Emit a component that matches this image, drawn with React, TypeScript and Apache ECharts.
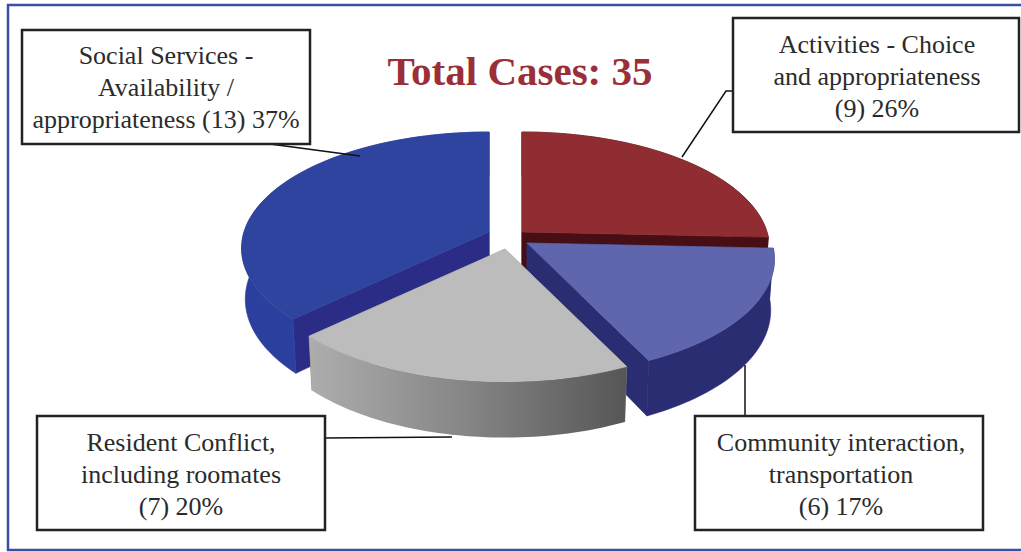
import React, { useEffect, useRef } from "react";
import * as echarts from "echarts";

// Data (clockwise from 12 o'clock)
const categories = ["Activities", "Community interaction", "Resident Conflict", "Social Services"];
const caseCounts = [9, 6, 7, 13];
const labelTexts = [
  "Activities - Choice\nand appropriateness\n(9) 26%",
  "Community interaction,\ntransportation\n(6) 17%",
  "Resident Conflict,\nincluding roomates\n(7) 20%",
  "Social Services -\nAvailability /\nappropriateness (13) 37%",
];
const titleText = "Total Cases: 35";

// Layout and style
const sliceCentres = [[522, 232], [527, 243], [505, 249], [489, 232]];
const sliceZ = [2, 3, 4, 1];
const topColors = ["#8f2d33", "#5f66ae", "#bcbcbc", "#2f449e"];
const faceColors = ["#470f14", "#2b2d72", "#8a8a8a", "#2a2c85"];
const greyRim = new echarts.graphic.LinearGradient(0, 0, 1, 0, [
  { offset: 0, color: "#adadad" },
  { offset: 0.5, color: "#858585" },
  { offset: 1, color: "#565656" },
]);
const rimColors: any[] = ["#470f14", "#2b2d72", greyRim, "#2b3f9f"];
const boxes = [
  { x: 733, y: 18, w: 286, h: 114, tx: 877, ty: 76 },
  { x: 695, y: 416, w: 288, h: 114, tx: 841, ty: 474 },
  { x: 37, y: 416, w: 288, h: 114, tx: 181, ty: 474 },
  { x: 22, y: 30, w: 288, h: 114, tx: 166, ty: 87 },
];
const connectors = [
  [[733, 91], [726, 91], [682, 157]],
  [[745, 365], [745, 416]],
  [[325, 438], [452, 437]],
  [[270, 144], [360, 156]],
];

const A = 245, K = 114, P = 0.14, DEPTH = 50, SHRINK = 0.985;
const total = caseCounts.reduce((s, v) => s + v, 0);

function topPt(c: number[], t: number) {
  const X = Math.sin(t), Y = -Math.cos(t), w = 1 - P * Y;
  return [c[0] + (A * X) / w, c[1] + (K * Y) / w];
}
function botPt(c: number[], t: number) {
  const X = Math.sin(t), Y = -Math.cos(t), w = 1 - P * Y;
  return [c[0] + (SHRINK * A * X) / w, c[1] + (K * Y) / w + DEPTH * (1 + 0.12 * Y)];
}
function arc(fn: (c: number[], t: number) => number[], c: number[], a: number, b: number) {
  const n = Math.max(8, Math.ceil(Math.abs(b - a) * 40));
  const pts: number[][] = [];
  for (let k = 0; k <= n; k++) pts.push(fn(c, a + ((b - a) * k) / n));
  return pts;
}

function renderItem(params: any, api: any) {
  const i = params.dataIndex;
  const v = api.value(0);
  const before = caseCounts.slice(0, i).reduce((s, x) => s + x, 0);
  const a = (before / total) * Math.PI * 2;
  const b = a + (v / total) * Math.PI * 2;
  const c = sliceCentres[i];
  const cb = [c[0], c[1] + DEPTH];
  const z2 = sliceZ[i];
  const poly = (points: number[][], fill: any, sub: number) => ({
    type: "polygon",
    z2: z2 * 10 + sub,
    shape: { points },
    style: { fill, stroke: typeof fill === "string" ? fill : undefined, lineWidth: typeof fill === "string" ? 0.6 : 0 },
  });
  return {
    type: "group",
    children: [
      poly([c, topPt(c, a), botPt(c, a), cb], faceColors[i], 0),
      poly([c, topPt(c, b), botPt(c, b), cb], faceColors[i], 1),
      poly([...arc(topPt, c, a, b), ...arc(botPt, c, a, b).reverse()], rimColors[i], 2),
      poly([c, ...arc(topPt, c, a, b)], topColors[i], 3),
    ],
  };
}

export default function App() {
  const ref = useRef<HTMLDivElement>(null);
  useEffect(() => {
    document.body.style.margin = "0";
    const chart = echarts.init(ref.current!, undefined, { renderer: "svg" });
    const font = "'Liberation Serif', serif";
    const elements: any[] = [
      {
        type: "rect",
        z: 1,
        shape: { x: 8, y: 5, width: 1040, height: 545 },
        style: { fill: "#fff", stroke: "#3a4ea2", lineWidth: 2.5 },
      },
      {
        type: "text",
        z: 20,
        x: 520,
        y: 71,
        style: {
          text: titleText,
          fill: "#9a2f37",
          font: `bold 41px ${font}`,
          textAlign: "center",
          textVerticalAlign: "middle",
        },
      },
    ];
    connectors.forEach((points) => {
      elements.push({
        type: "polyline",
        z: 20,
        shape: { points },
        style: { fill: "none", stroke: "#111", lineWidth: 1.5 },
      });
    });
    boxes.forEach((b, i) => {
      elements.push({
        type: "rect",
        z: 21,
        shape: { x: b.x, y: b.y, width: b.w, height: b.h },
        style: { fill: "#fff", stroke: "#222", lineWidth: 2.5 },
      });
      elements.push({
        type: "text",
        z: 22,
        x: b.tx,
        y: b.ty,
        style: {
          text: labelTexts[i],
          fill: "#2b2b2b",
          font: `26px ${font}`,
          lineHeight: 32,
          textAlign: "center",
          textVerticalAlign: "middle",
        },
      });
    });
    chart.setOption({
      animation: false,
      backgroundColor: "#fff",
      graphic: { elements },
      series: [
        {
          type: "custom",
          coordinateSystem: "none",
          silent: true,
          z: 5,
          renderItem,
          data: caseCounts.map((v, i) => ({ name: categories[i], value: [v] })),
        },
      ],
    });
    return () => chart.dispose();
  }, []);
  return <div ref={ref} style={{ width: 1021, height: 552 }} />;
}
